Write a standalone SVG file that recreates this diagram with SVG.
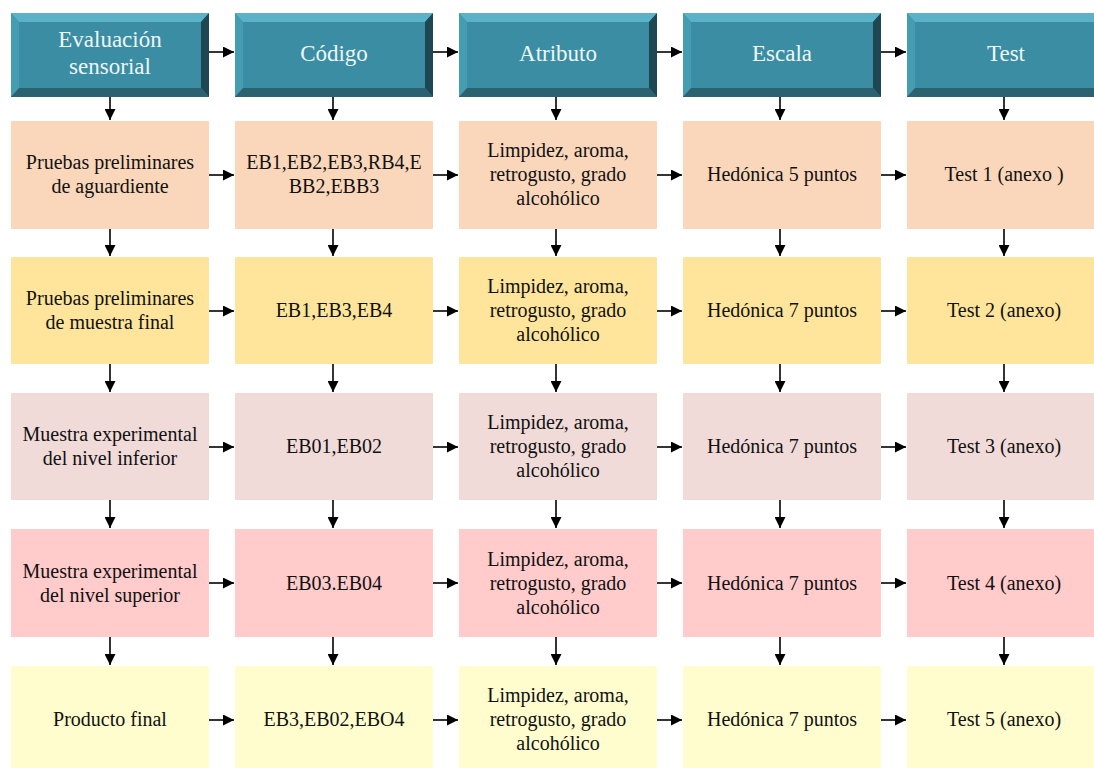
<svg xmlns="http://www.w3.org/2000/svg" width="1094" height="768" viewBox="0 0 1094 768">
  <defs>
    <style>
      .hdr-face { fill: #3a8da3; }
      .hdr-top { fill: #5cb3c8; }
      .hdr-left { fill: #469cb1; }
      .hdr-right { fill: #1e4752; }
      .hdr-bottom { fill: #2c6270; }
      .hdr-text { font-family: "Liberation Serif", "DejaVu Serif", serif; font-size: 23px; fill: #eef6f8; text-anchor: middle; }
      .txt { font-family: "Liberation Serif", "DejaVu Serif", serif; font-size: 20px; fill: #111; text-anchor: middle; }
      .r1 { fill: #fad7ba; }
      .r2 { fill: #fee59b; }
      .r3 { fill: #f0dbd9; }
      .r4 { fill: #ffcbcb; }
      .r5 { fill: #fffdcd; }
      .conn line { stroke: #000; stroke-width: 1.6; marker-end: url(#ah); }
    </style>
    <marker id="ah" viewBox="0 0 10 10" refX="10" refY="5" markerWidth="12" markerHeight="11" markerUnits="userSpaceOnUse" orient="auto">
      <path d="M0,0 L10,5 L0,10 z" fill="#000"/>
    </marker>
    <!-- bevelled header tile, 198 x 84 -->
    <g id="hdr">
      <rect x="0" y="0" width="198" height="84" class="hdr-face"/>
      <polygon points="0,0 198,0 190,9 8,9" class="hdr-top"/>
      <polygon points="0,0 8,9 8,75 0,84" class="hdr-left"/>
      <polygon points="198,0 198,84 190,75 190,9" class="hdr-right"/>
      <polygon points="0,84 198,84 190,75 8,75" class="hdr-bottom"/>
    </g>
  </defs>

  <rect width="1094" height="768" fill="#fff"/>

  <!-- header row -->
  <g id="h-evaluacion"><use href="#hdr" x="11" y="13"/><text class="hdr-text" x="110" y="47">Evaluación</text><text class="hdr-text" x="110" y="74">sensorial</text></g>
  <g id="h-codigo"><use href="#hdr" x="235" y="13"/><text class="hdr-text" x="334" y="61">Código</text></g>
  <g id="h-atributo"><use href="#hdr" x="459" y="13"/><text class="hdr-text" x="558" y="61">Atributo</text></g>
  <g id="h-escala"><use href="#hdr" x="683" y="13"/><text class="hdr-text" x="782" y="61">Escala</text></g>
  <g id="h-test"><use href="#hdr" x="907" y="13"/><text class="hdr-text" x="1006" y="61">Test</text></g>

  <!-- row 1 -->
  <g id="r1-c1"><rect class="r1" x="11" y="121" width="198" height="108"/><text class="txt" x="110" y="169">Pruebas preliminares</text><text class="txt" x="110" y="193">de aguardiente</text></g>
  <g id="r1-c2"><rect class="r1" x="235" y="121" width="198" height="108"/><text class="txt" x="334" y="169">EB1,EB2,EB3,RB4,E</text><text class="txt" x="334" y="193">BB2,EBB3</text></g>
  <g id="r1-c3"><rect class="r1" x="459" y="121" width="198" height="108"/><text class="txt" x="558" y="157">Limpidez, aroma,</text><text class="txt" x="558" y="181">retrogusto, grado</text><text class="txt" x="558" y="205">alcohólico</text></g>
  <g id="r1-c4"><rect class="r1" x="683" y="121" width="198" height="108"/><text class="txt" x="782" y="181">Hedónica 5 puntos</text></g>
  <g id="r1-c5"><rect class="r1" x="907" y="121" width="198" height="108"/><text class="txt" x="1004" y="181">Test 1 (anexo )</text></g>

  <!-- row 2 -->
  <g id="r2-c1"><rect class="r2" x="11" y="257" width="198" height="107"/><text class="txt" x="110" y="305">Pruebas preliminares</text><text class="txt" x="110" y="329">de muestra final</text></g>
  <g id="r2-c2"><rect class="r2" x="235" y="257" width="198" height="107"/><text class="txt" x="334" y="317">EB1,EB3,EB4</text></g>
  <g id="r2-c3"><rect class="r2" x="459" y="257" width="198" height="107"/><text class="txt" x="558" y="293">Limpidez, aroma,</text><text class="txt" x="558" y="317">retrogusto, grado</text><text class="txt" x="558" y="341">alcohólico</text></g>
  <g id="r2-c4"><rect class="r2" x="683" y="257" width="198" height="107"/><text class="txt" x="782" y="317">Hedónica 7 puntos</text></g>
  <g id="r2-c5"><rect class="r2" x="907" y="257" width="198" height="107"/><text class="txt" x="1004" y="317">Test 2 (anexo)</text></g>

  <!-- row 3 -->
  <g id="r3-c1"><rect class="r3" x="11" y="393" width="198" height="107"/><text class="txt" x="110" y="441">Muestra experimental</text><text class="txt" x="110" y="465">del nivel inferior</text></g>
  <g id="r3-c2"><rect class="r3" x="235" y="393" width="198" height="107"/><text class="txt" x="334" y="453">EB01,EB02</text></g>
  <g id="r3-c3"><rect class="r3" x="459" y="393" width="198" height="107"/><text class="txt" x="558" y="429">Limpidez, aroma,</text><text class="txt" x="558" y="453">retrogusto, grado</text><text class="txt" x="558" y="477">alcohólico</text></g>
  <g id="r3-c4"><rect class="r3" x="683" y="393" width="198" height="107"/><text class="txt" x="782" y="453">Hedónica 7 puntos</text></g>
  <g id="r3-c5"><rect class="r3" x="907" y="393" width="198" height="107"/><text class="txt" x="1004" y="453">Test 3 (anexo)</text></g>

  <!-- row 4 -->
  <g id="r4-c1"><rect class="r4" x="11" y="529" width="198" height="108"/><text class="txt" x="110" y="578">Muestra experimental</text><text class="txt" x="110" y="602">del nivel superior</text></g>
  <g id="r4-c2"><rect class="r4" x="235" y="529" width="198" height="108"/><text class="txt" x="334" y="590">EB03.EB04</text></g>
  <g id="r4-c3"><rect class="r4" x="459" y="529" width="198" height="108"/><text class="txt" x="558" y="566">Limpidez, aroma,</text><text class="txt" x="558" y="590">retrogusto, grado</text><text class="txt" x="558" y="614">alcohólico</text></g>
  <g id="r4-c4"><rect class="r4" x="683" y="529" width="198" height="108"/><text class="txt" x="782" y="590">Hedónica 7 puntos</text></g>
  <g id="r4-c5"><rect class="r4" x="907" y="529" width="198" height="108"/><text class="txt" x="1004" y="590">Test 4 (anexo)</text></g>

  <!-- row 5 -->
  <g id="r5-c1"><rect class="r5" x="11" y="666" width="198" height="108"/><text class="txt" x="110" y="726">Producto final</text></g>
  <g id="r5-c2"><rect class="r5" x="235" y="666" width="198" height="108"/><text class="txt" x="334" y="726">EB3,EB02,EBO4</text></g>
  <g id="r5-c3"><rect class="r5" x="459" y="666" width="198" height="108"/><text class="txt" x="558" y="702">Limpidez, aroma,</text><text class="txt" x="558" y="726">retrogusto, grado</text><text class="txt" x="558" y="750">alcohólico</text></g>
  <g id="r5-c4"><rect class="r5" x="683" y="666" width="198" height="108"/><text class="txt" x="782" y="726">Hedónica 7 puntos</text></g>
  <g id="r5-c5"><rect class="r5" x="907" y="666" width="198" height="108"/><text class="txt" x="1004" y="726">Test 5 (anexo)</text></g>

  <!-- connectors -->
  <g id="connectors" class="conn">
    <!-- horizontal, per row -->
    <line x1="209" y1="52" x2="234" y2="52"/><line x1="433" y1="52" x2="458" y2="52"/><line x1="657" y1="52" x2="682" y2="52"/><line x1="881" y1="52" x2="906" y2="52"/>
    <line x1="209" y1="175" x2="234" y2="175"/><line x1="433" y1="175" x2="458" y2="175"/><line x1="657" y1="175" x2="682" y2="175"/><line x1="881" y1="175" x2="906" y2="175"/>
    <line x1="209" y1="311" x2="234" y2="311"/><line x1="433" y1="311" x2="458" y2="311"/><line x1="657" y1="311" x2="682" y2="311"/><line x1="881" y1="311" x2="906" y2="311"/>
    <line x1="209" y1="447" x2="234" y2="447"/><line x1="433" y1="447" x2="458" y2="447"/><line x1="657" y1="447" x2="682" y2="447"/><line x1="881" y1="447" x2="906" y2="447"/>
    <line x1="209" y1="583" x2="234" y2="583"/><line x1="433" y1="583" x2="458" y2="583"/><line x1="657" y1="583" x2="682" y2="583"/><line x1="881" y1="583" x2="906" y2="583"/>
    <line x1="209" y1="720" x2="234" y2="720"/><line x1="433" y1="720" x2="458" y2="720"/><line x1="657" y1="720" x2="682" y2="720"/><line x1="881" y1="720" x2="906" y2="720"/>
    <!-- vertical, per column -->
    <line x1="110" y1="97" x2="110" y2="120"/><line x1="110" y1="229" x2="110" y2="256"/><line x1="110" y1="364" x2="110" y2="392"/><line x1="110" y1="500" x2="110" y2="528"/><line x1="110" y1="637" x2="110" y2="665"/>
    <line x1="333" y1="97" x2="333" y2="120"/><line x1="333" y1="229" x2="333" y2="256"/><line x1="333" y1="364" x2="333" y2="392"/><line x1="333" y1="500" x2="333" y2="528"/><line x1="333" y1="637" x2="333" y2="665"/>
    <line x1="556" y1="97" x2="556" y2="120"/><line x1="556" y1="229" x2="556" y2="256"/><line x1="556" y1="364" x2="556" y2="392"/><line x1="556" y1="500" x2="556" y2="528"/><line x1="556" y1="637" x2="556" y2="665"/>
    <line x1="780" y1="97" x2="780" y2="120"/><line x1="780" y1="229" x2="780" y2="256"/><line x1="780" y1="364" x2="780" y2="392"/><line x1="780" y1="500" x2="780" y2="528"/><line x1="780" y1="637" x2="780" y2="665"/>
    <line x1="1004" y1="97" x2="1004" y2="120"/><line x1="1004" y1="229" x2="1004" y2="256"/><line x1="1004" y1="364" x2="1004" y2="392"/><line x1="1004" y1="500" x2="1004" y2="528"/><line x1="1004" y1="637" x2="1004" y2="665"/>
  </g>
</svg>
